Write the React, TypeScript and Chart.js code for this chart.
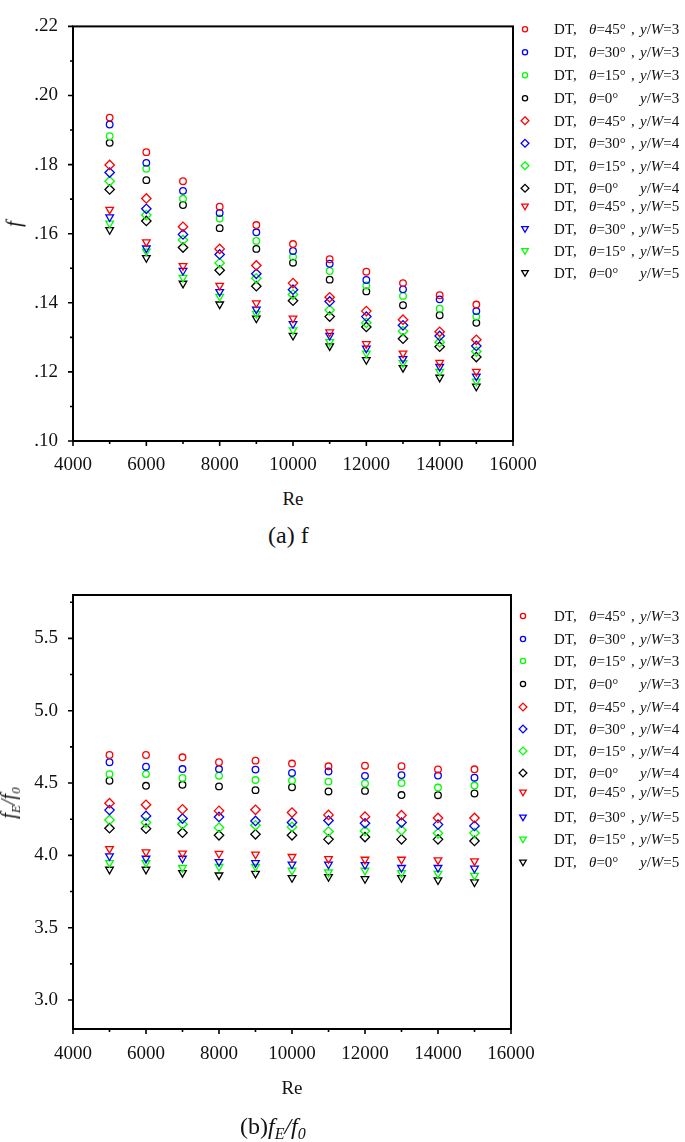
import React, { useEffect, useRef } from 'react';
import { Chart, registerables } from 'chart.js';

Chart.register(...registerables);

const FONT = '"Liberation Serif", "Times New Roman", Times, serif';

// ---------- data ----------
const reValues = [5000, 6000, 7000, 8000, 9000, 10000, 11000, 12000, 13000, 14000, 15000];

// f  (y/W = 3 circles, 4 diamonds, 5 triangles) for theta = 45, 30, 15, 0
const fC45 = [0.1936, 0.1836, 0.1752, 0.1678, 0.1625, 0.1570, 0.1526, 0.1490, 0.1457, 0.1422, 0.1395];
const fC30 = [0.1916, 0.1805, 0.1724, 0.1660, 0.1604, 0.1550, 0.1513, 0.1466, 0.1439, 0.1410, 0.1376];
const fC15 = [0.1882, 0.1788, 0.1701, 0.1644, 0.1579, 0.1533, 0.1492, 0.1450, 0.1420, 0.1383, 0.1360];
const fC0 = [0.1863, 0.1755, 0.1683, 0.1616, 0.1556, 0.1516, 0.1467, 0.1433, 0.1393, 0.1364, 0.1342];
const fD45 = [0.1799, 0.1702, 0.1620, 0.1556, 0.1508, 0.1457, 0.1416, 0.1376, 0.1351, 0.1316, 0.1293];
const fD30 = [0.1777, 0.1672, 0.1598, 0.1540, 0.1484, 0.1438, 0.1404, 0.1360, 0.1335, 0.1304, 0.1275];
const fD15 = [0.1752, 0.1654, 0.1582, 0.1515, 0.1471, 0.1424, 0.1379, 0.1342, 0.1318, 0.1286, 0.1259];
const fD0 = [0.1728, 0.1637, 0.1560, 0.1494, 0.1448, 0.1406, 0.1360, 0.1330, 0.1296, 0.1273, 0.1243];
const fT45 = [0.1670, 0.1576, 0.1507, 0.1450, 0.1399, 0.1355, 0.1315, 0.1281, 0.1254, 0.1227, 0.1201];
const fT30 = [0.1648, 0.1558, 0.1493, 0.1432, 0.1381, 0.1339, 0.1305, 0.1268, 0.1238, 0.1215, 0.1187];
const fT15 = [0.1630, 0.1549, 0.1473, 0.1418, 0.1369, 0.1321, 0.1287, 0.1254, 0.1226, 0.1201, 0.1173];
const fT0 = [0.1611, 0.1530, 0.1456, 0.1396, 0.1355, 0.1305, 0.1275, 0.1235, 0.1212, 0.1184, 0.1158];

// fE/f0
const rC45 = [4.694, 4.694, 4.678, 4.644, 4.655, 4.635, 4.616, 4.620, 4.617, 4.594, 4.595];
const rC30 = [4.644, 4.613, 4.597, 4.597, 4.593, 4.570, 4.580, 4.550, 4.555, 4.552, 4.537];
const rC15 = [4.562, 4.562, 4.535, 4.551, 4.521, 4.517, 4.510, 4.497, 4.500, 4.469, 4.483];
const rC0 = [4.516, 4.481, 4.488, 4.477, 4.451, 4.471, 4.442, 4.446, 4.417, 4.416, 4.428];
const rD45 = [4.361, 4.350, 4.319, 4.308, 4.315, 4.296, 4.280, 4.268, 4.278, 4.259, 4.259];
const rD30 = [4.313, 4.273, 4.255, 4.266, 4.238, 4.227, 4.241, 4.222, 4.227, 4.213, 4.204];
const rD15 = [4.245, 4.227, 4.215, 4.192, 4.208, 4.197, 4.165, 4.169, 4.174, 4.153, 4.155];
const rD0 = [4.188, 4.185, 4.157, 4.139, 4.146, 4.139, 4.111, 4.127, 4.111, 4.111, 4.100];
const rT45 = [4.046, 4.023, 4.014, 4.012, 4.007, 3.991, 3.977, 3.972, 3.972, 3.968, 3.961];
const rT30 = [3.995, 3.979, 3.979, 3.956, 3.949, 3.938, 3.938, 3.935, 3.915, 3.915, 3.910];
const rT15 = [3.949, 3.949, 3.915, 3.922, 3.922, 3.896, 3.884, 3.896, 3.880, 3.875, 3.861];
const rT0 = [3.903, 3.903, 3.880, 3.863, 3.875, 3.845, 3.852, 3.838, 3.845, 3.829, 3.815];

const angles = ['45', '30', '15', '0'];
const yOverW = ['3', '4', '5'];
const shapes = ['circle', 'diamond', 'triangle'];
const colors = ['#ff0000', '#0000ff', '#00ff00', '#000000'];

const fSeries = [fC45, fC30, fC15, fC0, fD45, fD30, fD15, fD0, fT45, fT30, fT15, fT0];
const rSeries = [rC45, rC30, rC15, rC0, rD45, rD30, rD15, rD0, rT45, rT30, rT15, rT0];

// axes ticks
const xMajor = [4000, 6000, 8000, 10000, 12000, 14000, 16000];
const xMinor = [5000, 7000, 9000, 11000, 13000, 15000];
const fMajor = [0.10, 0.12, 0.14, 0.16, 0.18, 0.20, 0.22];
const fMinor = [0.11, 0.13, 0.15, 0.17, 0.19, 0.21];
const rMajor = [3.0, 3.5, 4.0, 4.5, 5.0, 5.5];
const rMinor = [2.75, 3.25, 3.75, 4.25, 4.75, 5.25, 5.75];

// ---------- helpers ----------
function drawMarker(ctx, shape, x, y, r, color) {
  ctx.beginPath();
  if (shape === 'circle') {
    ctx.arc(x, y, r, 0, Math.PI * 2);
  } else if (shape === 'diamond') {
    ctx.moveTo(x, y - r);
    ctx.lineTo(x + r, y);
    ctx.lineTo(x, y + r);
    ctx.lineTo(x - r, y);
    ctx.closePath();
  } else {
    const h = r * 0.5;
    ctx.moveTo(x - r * 0.866, y - h);
    ctx.lineTo(x + r * 0.866, y - h);
    ctx.lineTo(x, y + r);
    ctx.closePath();
  }
  ctx.strokeStyle = color;
  ctx.stroke();
}

function makeDatasets(series) {
  return series.map((vals, i) => {
    const g = Math.floor(i / 4);
    const a = i % 4;
    const shape = shapes[g];
    return {
      label: `DT, θ=${angles[a]}°, y/W=${yOverW[g]}`,
      data: reValues.map((x, k) => ({ x, y: vals[k] })),
      showLine: false,
      pointStyle: shape === 'circle' ? 'circle' : shape === 'diamond' ? 'rectRot' : 'triangle',
      rotation: shape === 'triangle' ? 180 : 0,
      pointRadius: shape === 'circle' ? 3.3 : shape === 'diamond' ? 4.7 : 4.4,
      pointBorderWidth: 1.3,
      borderColor: colors[a],
      backgroundColor: 'rgba(0,0,0,0)',
      pointBackgroundColor: 'rgba(0,0,0,0)',
    };
  });
}

function buildChart(canvas, opts) {
  const { series, yMin, yMax, yMajor, yMinor, yFmt, padTop, padRight, axisW, axisH, xPad, legendX, legendRows } = opts;
  const framePlugin = {
    id: 'frame',
    afterDraw(chart) {
      const { ctx, chartArea: a, scales } = chart;
      ctx.save();
      ctx.strokeStyle = '#000';
      ctx.lineWidth = 2;
      ctx.strokeRect(a.left, a.top, a.right - a.left, a.bottom - a.top);
      ctx.lineWidth = 1.6;
      ctx.beginPath();
      xMajor.forEach((v) => {
        const p = scales.x.getPixelForValue(v);
        ctx.moveTo(p, a.bottom);
        ctx.lineTo(p, a.bottom + 5);
      });
      xMinor.forEach((v) => {
        const p = scales.x.getPixelForValue(v);
        ctx.moveTo(p, a.bottom);
        ctx.lineTo(p, a.bottom + 3);
      });
      yMajor.forEach((v) => {
        const p = scales.y.getPixelForValue(v);
        ctx.moveTo(a.left, p);
        ctx.lineTo(a.left - 5, p);
      });
      yMinor.forEach((v) => {
        if (v < yMin || v > yMax) return;
        const p = scales.y.getPixelForValue(v);
        ctx.moveTo(a.left, p);
        ctx.lineTo(a.left - 3, p);
      });
      ctx.stroke();
      // legend markers
      ctx.lineWidth = 1.3;
      series.forEach((_, i) => {
        const g = Math.floor(i / 4);
        const shape = shapes[g];
        const r = shape === 'circle' ? 2.6 : shape === 'diamond' ? 3.9 : 3.8;
        drawMarker(ctx, shape, legendX, legendRows[i], r, colors[i % 4]);
      });
      ctx.restore();
    },
  };

  return new Chart(canvas, {
    type: 'scatter',
    data: { datasets: makeDatasets(series) },
    options: {
      responsive: false,
      animation: false,
      devicePixelRatio: 1,
      layout: { padding: { top: padTop, right: padRight, left: 0, bottom: 0 } },
      plugins: { legend: { display: false }, tooltip: { enabled: false } },
      scales: {
        x: {
          type: 'linear',
          min: 4000,
          max: 16000,
          afterBuildTicks: (s) => { s.ticks = xMajor.map((v) => ({ value: v })); },
          afterFit: (s) => { s.height = axisH; },
          grid: { display: false, drawTicks: false },
          border: { display: false },
          ticks: {
            autoSkip: false,
            maxRotation: 0,
            padding: xPad,
            color: '#111',
            font: { family: FONT, size: 19 },
            callback: (v) => String(v),
          },
        },
        y: {
          type: 'linear',
          min: yMin,
          max: yMax,
          afterBuildTicks: (s) => { s.ticks = yMajor.map((v) => ({ value: v })); },
          afterFit: (s) => { s.width = axisW; },
          grid: { display: false, drawTicks: false },
          border: { display: false },
          ticks: {
            padding: 15,
            color: '#111',
            font: { family: FONT, size: 19 },
            callback: yFmt,
          },
        },
      },
    },
    plugins: [framePlugin],
  });
}

const topRows = [29.3, 52.3, 75.3, 98.3, 120.7, 143.3, 165.7, 188.3, 206, 228.5, 250.5, 272.5];
const botRows = [616, 639, 661, 684, 707, 729, 751, 773, 792, 817, 839, 862];

function LegendText({ rows, top }) {
  const items = [];
  rows.forEach((y, i) => {
    const g = Math.floor(i / 4);
    const a = i % 4;
    const base = {
      position: 'absolute',
      top: top + y,
      transform: 'translateY(-50%)',
      lineHeight: 1,
      whiteSpace: 'nowrap',
      fontFamily: FONT,
      fontSize: 15,
      color: '#111',
    } as React.CSSProperties;
    items.push(<span key={`a${i}`} style={{ ...base, left: 554 }}>DT,</span>);
    items.push(
      <span key={`b${i}`} style={{ ...base, left: 589 }}>
        <i>θ</i>={angles[a]}°
      </span>
    );
    if (angles[a] !== '0') {
      items.push(<span key={`c${i}`} style={{ ...base, left: 631 }}>,</span>);
    }
    items.push(
      <span key={`d${i}`} style={{ ...base, left: 640 }}>
        <i>y</i>/<i>W</i>={yOverW[g]}
      </span>
    );
  });
  return <>{items}</>;
}

export default function App() {
  const c1 = useRef(null);
  const c2 = useRef(null);

  useEffect(() => {
    const ch1 = buildChart(c1.current, {
      series: fSeries,
      yMin: 0.10,
      yMax: 0.22,
      yMajor: fMajor,
      yMinor: fMinor,
      yFmt: (v) => Number(v).toFixed(2).replace(/^0/, ''),
      padTop: 7,
      padRight: 685 - 513,
      axisW: 73,
      axisH: 480 - 441,
      xPad: 13,
      legendX: 525,
      legendRows: topRows,
    });
    const ch2 = buildChart(c2.current, {
      series: rSeries,
      yMin: 2.8,
      yMax: 5.8,
      yMajor: rMajor,
      yMinor: rMinor,
      yFmt: (v) => Number(v).toFixed(1),
      padTop: 35,
      padRight: 685 - 511,
      axisW: 73,
      axisH: 520 - 469,
      xPad: 14,
      legendX: 523,
      legendRows: botRows.map((y) => y - 560),
    });
    return () => {
      ch1.destroy();
      ch2.destroy();
    };
  }, []);

  const text = (extra) => ({
    position: 'absolute',
    fontFamily: FONT,
    color: '#111',
    whiteSpace: 'nowrap',
    lineHeight: 1,
    ...extra,
  }) as React.CSSProperties;

  return (
    <div style={{ position: 'absolute', left: 0, top: 0, width: 685, height: 1142, overflow: 'hidden', background: '#fff' }}>
      <canvas ref={c1} width={685} height={480} style={{ position: 'absolute', left: 0, top: 0, width: 685, height: 480 }} />
      <canvas ref={c2} width={685} height={520} style={{ position: 'absolute', left: 0, top: 560, width: 685, height: 520 }} />
      <LegendText rows={topRows} top={0} />
      <LegendText rows={botRows} top={0} />

      {/* top chart titles */}
      <div style={text({ left: 14, top: 224, fontSize: 21, fontStyle: 'italic', transform: 'translate(-50%, -50%) rotate(-90deg)' })}>f</div>
      <div style={text({ left: 293, top: 498, fontSize: 19, transform: 'translate(-50%, -50%)' })}>Re</div>
      <div style={text({ left: 268, top: 535, fontSize: 24, transform: 'translateY(-50%)' })}>(a) f</div>

      {/* bottom chart titles */}
      <div style={text({ left: 10, top: 803, fontSize: 20, fontStyle: 'italic', transform: 'translate(-50%, -50%) rotate(-90deg)' })}>
        f<sub style={{ fontSize: 13 }}>E</sub>/f<sub style={{ fontSize: 13 }}>0</sub>
      </div>
      <div style={text({ left: 292, top: 1087, fontSize: 19, transform: 'translate(-50%, -50%)' })}>Re</div>
      <div style={text({ left: 240, top: 1128, fontSize: 24, transform: 'translateY(-50%)' })}>
        (b)<i>f<sub style={{ fontSize: 16 }}>E</sub>/f<sub style={{ fontSize: 16 }}>0</sub></i>
      </div>
    </div>
  );
}
